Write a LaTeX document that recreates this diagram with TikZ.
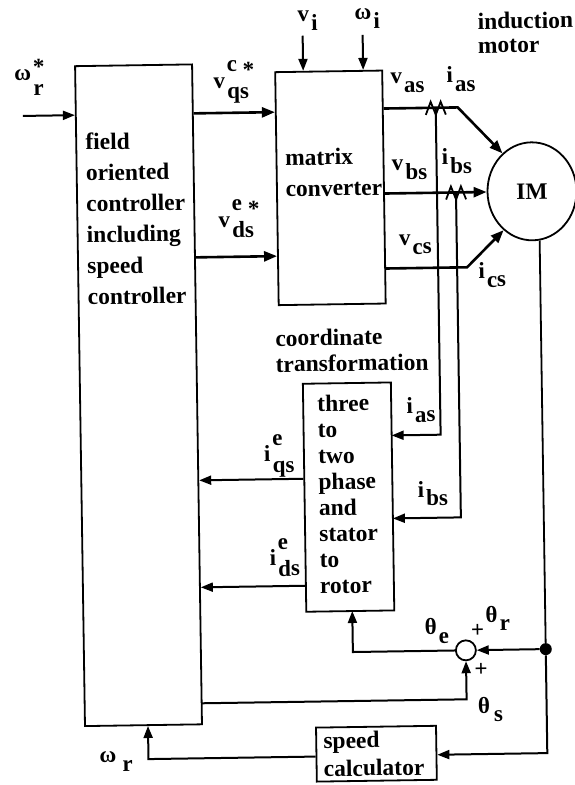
\documentclass[tikz,border=0pt]{standalone}
\usepackage{fontspec}
\setmainfont{Liberation Serif}
\usetikzlibrary{arrows.meta,shapes.geometric}
\newcommand{\sig}[3]{#1\kern2pt\rlap{\raisebox{16pt}{#3}}\raisebox{-11pt}{#2}}
\newcommand{\sigdown}[2]{#1\kern2pt\raisebox{-9pt}{#2}}

\begin{document}
\begin{tikzpicture}[x=1pt,y=-1pt,
  main box/.style={rectangle,draw,line width=1.8pt,inner sep=0pt},
  box text/.style={inner sep=0pt,anchor=west,align=left,font=\bfseries\fontsize{23.5}{26}\selectfont},
  sig text/.style={inner sep=0pt,anchor=base west,font=\bfseries\fontsize{23}{26}\selectfont},
  wire/.style={line width=1.8pt},
  flow/.style={line width=2pt,-{Triangle[length=12pt,width=9pt]}},
  power/.style={line width=2.6pt,-{Triangle[length=13pt,width=10pt]}}]
  \useasboundingbox (0,0) rectangle (575,785);
  \begin{scope}[rotate around={0.86:(287.5,392.5)},transform shape]
  \node[main box,minimum width=117pt,minimum height=660pt] (foc) at (138.5,393) {};
  \node[main box,minimum width=107pt,minimum height=233pt] (conv) at (333.5,188.5) {};
  \node[main box,minimum width=88pt,minimum height=228pt] (phase) at (347,498) {};
  \node[main box,minimum width=120pt,minimum height=54pt] (speed) at (371,755) {};
  \node[main box,ellipse,inner sep=0pt,minimum width=89pt,minimum height=98pt] (IM) at (535,195) {};
  \node[circle,draw,line width=1.8pt,inner sep=0pt,minimum size=20pt] (sum) at (462,653) {};
  \node[circle,fill,inner sep=0pt,minimum size=12pt] (jn) at (IM.-82 |- sum) {};

  \node[box text,font=\bfseries\fontsize{23.5}{31}\selectfont] (foctext) at (89,216) {field\\oriented\\controller\\including\\speed\\controller};
  \node[box text,font=\bfseries\fontsize{23.5}{31}\selectfont] (convtext) at (288.5,173) {matrix\\converter};
  \node[box text] (phasetext) at (317,495) {three\\to\\two\\phase\\and\\stator\\to\\rotor};
  \node[box text,font=\bfseries\fontsize{23.5}{28}\selectfont] (speedtext) at (318,755) {speed\\calculator};
  \node[box text] (coordtext) at (276,351) {coordinate\\transformation};
  \node[box text,font=\bfseries\fontsize{23.5}{24}\selectfont] (motortext) at (483,36) {induction\\motor};
  \node[font=\bfseries\fontsize{23.5}{26}\selectfont] (imtext) at (IM) {IM};

  \coordinate (wrin) at (27,112);
  \coordinate (viin) at (308,36);
  \coordinate (wiin) at (368,36);
  \coordinate (sa) at (440,110);
  \coordinate (sb) at (459,195);
  \coordinate (vaknee) at (462,110);
  \coordinate (vcknee) at (469,270);
  \coordinate (iasin) at (391,437);
  \coordinate (ibsin) at (391,520);
  \coordinate (thin) at (349,612);
  \coordinate (thsout) at (197,702);
  \coordinate (wrout) at (143,757);

  \path[flow]
    (wrin) edge (foc.west |- wrin)
    (viin) edge (viin |- conv.north)
    (wiin) edge (wiin |- conv.north);
  \path[power]
    (foc.east |- wrin) edge (conv.west |- wrin)
    (foc.east |- 0,256) edge (conv.west |- 0,256)
    (conv.east |- IM.west) edge (IM.west);
  \draw[power] (conv.east |- vaknee) -- (vaknee) -- (IM.127);
  \draw[power] (conv.east |- vcknee) -- (vcknee) -- (IM.233);
  \path[flow]
    (phase.west |- 0,479) edge (foc.east |- 0,479)
    (phase.west |- 0,586) edge (foc.east |- 0,586)
    (jn) edge (sum.east);
  \draw[flow] (sa) |- (iasin);
  \draw[flow] (sb) |- (ibsin);
  \draw[flow] (sum.west) -| (thin);
  \draw[flow] (thsout) -| (sum.south);
  \draw[flow] (speed.west |- wrout) -- (wrout) -- (wrout |- foc.south);
  \draw[flow] (jn) |- (speed.east |- wrout);
  \draw[wire] (IM.-82) -- (jn);

  \draw[wire] ([shift={(-10,7)}]sa) -- ([shift={(-5,-6)}]sa) -- ([shift={(0,7)}]sa) -- ([shift={(5,-6)}]sa) -- ([shift={(10,7)}]sa);
  \draw[wire] ([shift={(-10,7)}]sb) -- ([shift={(-5,-6)}]sb) -- ([shift={(0,7)}]sb) -- ([shift={(5,-6)}]sb) -- ([shift={(10,7)}]sb);

  \node[sig text] (wrstar) at (19,76) {\sig{ω}{\raisebox{-5pt}{r}}{\raisebox{-11pt}{*}}};
  \node[sig text] (vqs) at (218,87) {\sig{v}{qs}{c \raisebox{-6pt}{*}}};
  \node[sig text] (vds) at (221,226) {\sig{v}{ds}{e \raisebox{-6pt}{*}}};
  \node[sig text] (vi) at (303,22) {\sigdown{v}{i}};
  \node[sig text] (wi) at (360,21) {\sigdown{ω}{i}};
  \node[sig text] (vas) at (395,85) {\sigdown{v}{as}};
  \node[sig text] (ias) at (451,85) {\sigdown{i}{as}};
  \node[sig text] (vbs) at (395,172) {\sigdown{v}{bs}};
  \node[sig text] (ibs) at (445,167) {\sigdown{i}{bs}};
  \node[sig text] (vcs) at (401,247) {\sigdown{v}{cs}};
  \node[sig text] (ics) at (480,281) {\sigdown{i}{cs}};
  \node[sig text] (iasb) at (406,415) {\sigdown{i}{as}};
  \node[sig text] (ibsb) at (416,499) {\sigdown{i}{bs}};
  \node[sig text] (iqs) at (263,461) {\sig{i}{qs}{e}};
  \node[sig text] (ids) at (267,565) {\sig{i}{ds}{e}};
  \node[sig text] (the) at (421,637) {\sigdown{θ}{e}};
  \node[sig text] (thr) at (482,625) {\sigdown{θ}{r}};
  \node[sig text] (ths) at (473,716) {\sigdown{θ}{\kern2pt s}};
  \node[sig text] (wr) at (94,760) {\sigdown{ω}{\kern4pt r}};
  \node[sig text,anchor=center] (plusr) at (474,634) {+};
  \node[sig text,anchor=center] (pluss) at (477,673) {+};
  \end{scope}
\end{tikzpicture}
\end{document}
